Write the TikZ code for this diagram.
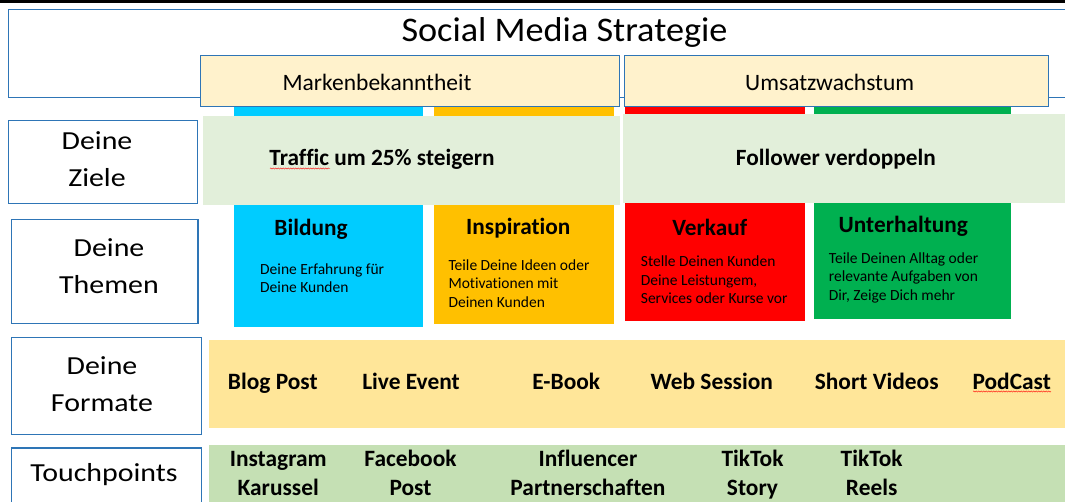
\documentclass[tikz,border=0pt]{standalone}
\usepackage{fontspec}
\setmainfont[Ligatures=CommonOff]{Carlito}
\newfontfamily\titelfont[FakeStretch=1.05]{Carlito}
\newfontfamily\breitfont[FakeStretch=1.15]{Carlito}
\usetikzlibrary{decorations.pathmorphing}
\definecolor{rahmen}{HTML}{2E75B6}
\definecolor{kopf}{HTML}{FFF2CC}
\definecolor{ziel}{HTML}{E2EFDA}
\definecolor{cyanbox}{HTML}{00CCFF}
\definecolor{orangebox}{HTML}{FFC000}
\definecolor{rotbox}{HTML}{FF0000}
\definecolor{gruenbox}{HTML}{00B050}
\definecolor{format}{HTML}{FFE699}
\definecolor{touch}{HTML}{C5E0B4}
\tikzset{
  rahmenbox/.style={draw=rahmen, line width=1.3pt, fill=white, inner sep=0pt, anchor=north west},
  kopfbox/.style={draw=rahmen, line width=1.3pt, fill=kopf, inner sep=0pt, anchor=north west},
  flaeche/.style={inner sep=0pt, anchor=north west},
  zeile/.style={font=\breitfont\fontsize{26}{37}\selectfont, align=center, inner sep=0pt, anchor=north},
  kopftext/.style={font=\fontsize{23.5}{28}\selectfont, inner sep=0pt, anchor=base},
  zieltext/.style={font=\bfseries\fontsize{23.3}{28}\selectfont, inner sep=0pt, anchor=base},
  thema/.style={font=\bfseries\fontsize{23.3}{28}\selectfont, inner sep=0pt, anchor=base},
  thematext/.style={font=\fontsize{15.5}{18.5}\selectfont, align=left, anchor=north west, inner sep=0pt},
  eintrag/.style={font=\bfseries\fontsize{23.4}{28.3}\selectfont, align=center, inner sep=0pt},
  wellig/.style={draw=red, line width=0.4pt, decorate, decoration={snake, amplitude=0.6pt, segment length=2.5pt}}
}
\begin{document}
\begin{tikzpicture}[x=1pt,y=-1pt]
\useasboundingbox (0,0) rectangle (1065,502);
\fill[black] (0,0) rectangle (1065,3.5);

\node[rahmenbox, minimum width=1062, minimum height=88] (strategie) at (8,9) {};
\node[font=\titelfont\fontsize{34.5}{40}\selectfont, inner sep=0pt, anchor=base] (titel) at (564.5,41.7) {Social Media Strategie};

\node[flaeche, fill=cyanbox, minimum width=189, minimum height=221] (bildung) at (233.5,106) {};
\node[flaeche, fill=orangebox, minimum width=180.5, minimum height=218] (inspiration) at (433.5,106) {};
\node[flaeche, fill=rotbox, minimum width=179.5, minimum height=215] (verkauf) at (625,106) {};
\node[flaeche, fill=gruenbox, minimum width=197.5, minimum height=213] (unterhaltung) at (813.5,106) {};

\node[flaeche, fill=ziel, minimum width=417, minimum height=88.5] (traffic) at (203,116) {};
\node[flaeche, fill=ziel, minimum width=445, minimum height=89] (follower) at (622.7,114) {};
\node[zieltext] (traffictext) at (382,166) {Traffic um 25\% steigern};
\node[zieltext] (followertext) at (835.8,166) {Follower verdoppeln};

\node[kopfbox, minimum width=419, minimum height=51] (marke) at (200,55) {};
\node[kopfbox, minimum width=424, minimum height=51] (umsatz) at (624,55) {};
\node[kopftext] (markentext) at (377,90.5) {Markenbekanntheit};
\node[kopftext] (umsatztext) at (829.7,90.5) {Umsatzwachstum};

\node[rahmenbox, minimum width=189, minimum height=83] (ziele) at (8,120) {};
\node[rahmenbox, minimum width=186.3, minimum height=104.3] (themen) at (11,218.7) {};
\node[rahmenbox, minimum width=190, minimum height=97] (formate) at (11,337) {};
\node[rahmenbox, minimum width=190, minimum height=60] (touchpoints) at (11,447.3) {};
\node[zeile] (zieletext) at (97,123.4) {\strut Deine\\Ziele};
\node[zeile] (thementext) at (109,230.8) {\strut Deine\\Themen};
\node[zeile] (formatetext) at (102,348.1) {\strut Deine\\Formate};
\node[zeile, anchor=base] (touchtext) at (104,481) {Touchpoints};

\node[thema] (bildungkopf) at (311,236) {Bildung};
\node[thema] (inspirationkopf) at (518.3,235) {Inspiration};
\node[thema] (verkaufkopf) at (709.7,236) {Verkauf};
\node[thema] (unterhaltungkopf) at (903.3,233) {Unterhaltung};
\node[thematext] (bildungtext) at (260,261.05) {\strut Deine Erfahrung für\\Deine Kunden};
\node[thematext] (inspirationtext) at (448.3,257.05) {\strut Teile Deine Ideen oder\\Motivationen mit\\Deinen Kunden};
\node[thematext] (verkauftext) at (640.7,253.75) {\strut Stelle Deinen Kunden\\Deine Leistungem,\\Services oder Kurse vor};
\node[thematext] (unterhaltungtext) at (828.7,250.35) {\strut Teile Deinen Alltag oder\\relevante Aufgaben von\\Dir, Zeige Dich mehr};

\node[flaeche, fill=format, minimum width=860, minimum height=88] (formatband) at (208.5,340) {};
\node[eintrag, anchor=base] (blog) at (272.8,389) {Blog Post};
\node[eintrag, anchor=base] (live) at (411,389) {Live Event};
\node[eintrag, anchor=base] (ebook) at (566.3,389) {E-Book};
\node[eintrag, anchor=base] (web) at (711.7,389) {Web Session};
\node[eintrag, anchor=base] (short) at (876.7,389) {Short Videos};
\node[eintrag, anchor=base] (podcast) at (1011.7,389) {PodCast};

\node[flaeche, fill=touch, minimum width=860, minimum height=60] (touchband) at (208.5,445) {};
\node[eintrag, anchor=north] (instagram) at (278.2,446.9) {\strut Instagram\\Karussel};
\node[eintrag, anchor=north] (facebook) at (410.5,446.9) {\strut Facebook\\Post};
\node[eintrag, anchor=north] (influencer) at (588,446.9) {\strut Influencer\\Partnerschaften};
\node[eintrag, anchor=north] (story) at (752.5,446.9) {\strut TikTok\\Story};
\node[eintrag, anchor=north] (reels) at (871.7,446.9) {\strut TikTok\\Reels};

\draw[wellig] (270,168.5) -- (330,168.5);
\draw[wellig] (682,288) -- (755,288);
\draw[wellig] (973,391.5) -- (1051,391.5);
\end{tikzpicture}
\end{document}
